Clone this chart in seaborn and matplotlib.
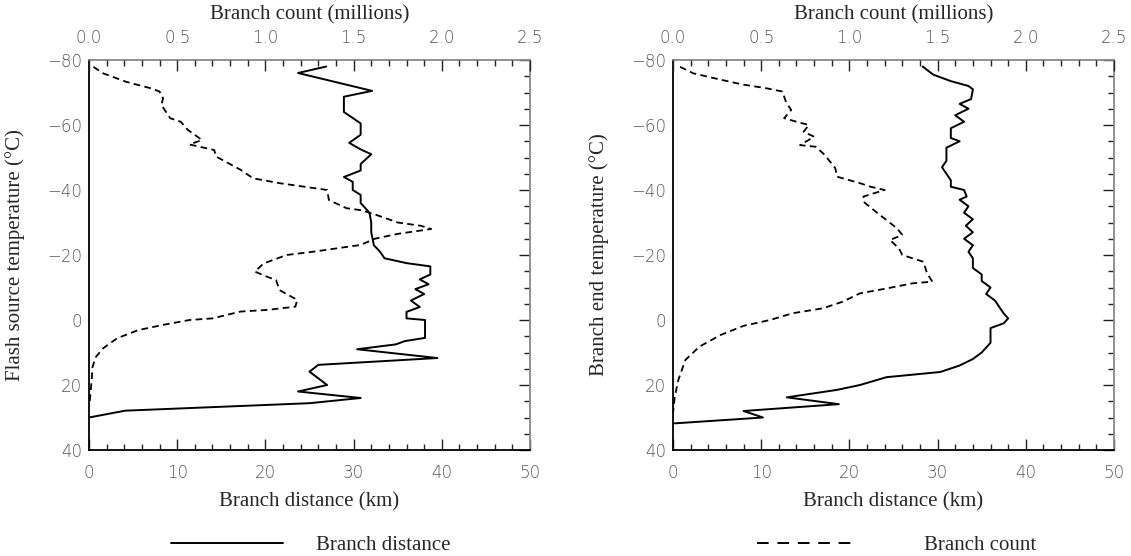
import numpy as np
import pandas as pd
import matplotlib
matplotlib.use("Agg")
import matplotlib.pyplot as plt
from matplotlib.lines import Line2D
from matplotlib.ticker import MultipleLocator
import seaborn as sns

# ---------------- data ----------------
# Left panel: flash source temperature
left_dist_km = [26.9, 23.7, 32.1, 28.9, 28.9, 30.8, 30.8, 29.5, 30.8, 32.0, 30.8, 30.8, 28.9, 29.9,
                29.9, 30.8, 30.8, 31.8, 32.0, 32.0, 32.3, 33.0, 33.5, 36.0, 38.7, 38.7, 37.5, 38.5,
                37.0, 38.0, 36.5, 37.5, 36.0, 36.0, 38.1, 38.1, 35.8, 34.8, 30.4, 39.5, 26.0, 25.0,
                27.0, 23.7, 30.8, 25.0, 4.1, 0.0]
left_dist_temp = [-78, -76, -70.5, -68.7, -64, -60.5, -57, -54.5, -52.5, -51, -48, -46, -44, -42.5,
                  -40, -38.5, -36, -33, -30, -27, -23, -21, -19, -17.5, -16.5, -14, -12.5, -11,
                  -9.5, -8, -6, -4, -2.5, -0.5, 0, 5.5, 6.5, 7.5, 9, 11.7, 13.8, 15.9,
                  20, 22, 24, 25.6, 27.9, 30]

left_count_m = [0.025, 0.08, 0.21, 0.35, 0.40, 0.42, 0.41, 0.46, 0.52, 0.56, 0.64, 0.57, 0.71, 0.72,
                0.86, 0.93, 1.08, 1.35, 1.36, 1.46, 1.54, 1.62, 1.75, 1.88, 1.94, 1.75, 1.62, 1.54,
                1.27, 1.12, 0.99, 0.94, 1.01, 1.06, 1.08, 1.18, 1.17, 1.01, 0.86, 0.70, 0.57, 0.42,
                0.28, 0.16, 0.08, 0.04, 0.02, 0.015, 0.005, 0.0]
left_count_temp = [-77.9, -75.9, -73.3, -71.3, -70.3, -68.2, -66.2, -62.1, -61, -58.5, -55.4, -54, -52.3, -50.3,
                   -46.2, -43.6, -42.1, -40, -36.9, -34.4, -33.8, -32.5, -30, -29, -28, -26.5, -25, -23.1,
                   -21, -20, -17.4, -14.9, -13.3, -12.3, -9.2, -6.2, -4.1, -3.1, -2.6, -0.5, 0, 1.5,
                   3.1, 5.6, 8.7, 11.3, 14.4, 18.5, 24.6, 26]

# Right panel: branch end temperature
right_dist_km = [28.3, 29.5, 31.5, 33.5, 34.0, 33.8, 32.5, 33.5, 32.0, 33.0, 31.5, 31.5, 32.5, 31.0,
                 31.0, 30.5, 31.0, 31.5, 31.5, 33.0, 33.3, 32.5, 33.5, 33.0, 34.0, 33.2, 34.0, 33.0,
                 34.0, 33.5, 34.0, 34.0, 35.0, 35.0, 36.0, 35.5, 36.5, 37.0, 37.5, 38.0, 37.5, 36.0,
                 36.0, 35.5, 35.0, 34.0, 32.5, 30.3, 24.2, 21.2, 18.6, 12.9, 18.8, 8.0, 10.2, 0.2]
right_dist_temp = [-78, -75.5, -73.5, -72, -71, -68, -66.5, -65, -63, -61, -59, -56, -55, -53,
                   -49, -47, -45, -43, -41, -40, -38, -37, -35, -33, -31, -29, -27, -25,
                   -23, -21, -19, -16, -14, -12, -10, -8, -6, -4, -2, -0.5, 1, 2.5,
                   7, 8.5, 10, 12, 14, 16, 17.6, 20, 21.5, 23.8, 25.9, 28, 30, 31.8]

right_count_m = [0.04, 0.115, 0.25, 0.39, 0.53, 0.62, 0.64, 0.67, 0.63, 0.70, 0.77, 0.74, 0.80, 0.72,
                 0.81, 0.86, 0.92, 0.93, 1.06, 1.12, 1.20, 1.08, 1.08, 1.15, 1.27, 1.30, 1.23, 1.28,
                 1.30, 1.42, 1.44, 1.47, 1.36, 1.21, 1.06, 0.96, 0.85, 0.68, 0.55, 0.40, 0.27, 0.15,
                 0.07, 0.03, 0.01, 0.0]
right_count_temp = [-77.9, -75.9, -74.2, -72.5, -71.3, -70.3, -67.2, -64.6, -62.1, -61, -60, -57.9, -56.4, -53.8,
                    -53.3, -50.8, -46.7, -44.1, -42.1, -41, -40, -38, -36.4, -33.3, -28.2, -26.2, -24.6, -22.1,
                    -20, -17.9, -14.4, -11.8, -11.3, -9.7, -8.2, -5.6, -3.6, -2.1, 0, 1.8, 4.6, 8.2,
                    12.3, 18.5, 23.6, 28.7]

panels = [
    dict(ylabel="Flash source temperature (°C)", dist=(left_dist_km, left_dist_temp),
         count=(left_count_m, left_count_temp)),
    dict(ylabel="Branch end temperature (°C)", dist=(right_dist_km, right_dist_temp),
         count=(right_count_m, right_count_temp)),
]

x_ticks_km = [0, 10, 20, 30, 40, 50]
x_ticks_m = [0.0, 0.5, 1.0, 1.5, 2.0, 2.5]
y_ticks = [-80, -60, -40, -20, 0, 20, 40]

# ---------------- style ----------------
sns.set_theme(style="white")
plt.rcParams["font.family"] = ["DejaVu Sans"]
plt.rcParams["axes.unicode_minus"] = True

W, H = 1131, 556
fig = plt.figure(figsize=(W / 100, H / 100), dpi=100)

serif = ["Liberation Serif", "DejaVu Serif"]
tick_font = dict(family=["DejaVu Sans"], size=12, weight="light")
tick_color = "#555555"

ax_left_px = [89, 673]
ax_w, ax_top, ax_bot = 441, 60, 450

for i, p in enumerate(panels):
    ax = fig.add_axes([ax_left_px[i] / W, (H - ax_bot) / H, ax_w / W, (ax_bot - ax_top) / H])
    ax.set_facecolor("white")
    df_d = pd.DataFrame({"x": p["dist"][0], "y": p["dist"][1]})
    sns.lineplot(data=df_d, x="x", y="y", sort=False, estimator=None, ax=ax,
                 color="black", linewidth=1.4)
    ax.set_xlim(0, 50)
    ax.set_ylim(40, -80)
    ax.set_xticks(x_ticks_km)
    ax.set_yticks(y_ticks)
    ax.xaxis.set_minor_locator(MultipleLocator(2))
    ax.yaxis.set_minor_locator(MultipleLocator(5))
    ax.set_xticklabels([str(v) for v in x_ticks_km], **tick_font, color=tick_color)
    ax.set_yticklabels([str(v).replace("-", "\u2212") for v in y_ticks], **tick_font, color=tick_color)
    ax.tick_params(axis="both", which="both", direction="in", top=False, right=True,
                   color="#222222", width=1)
    ax.tick_params(axis="both", which="major", length=8)
    ax.tick_params(axis="both", which="minor", length=4)
    ax.tick_params(axis="x", which="major", pad=10)
    ax.tick_params(axis="y", which="major", pad=5)
    ax.set_xlabel("Branch distance (km)", family=serif, size=15)
    ax.set_ylabel(p["ylabel"], family=serif, size=15)
    ax.xaxis.set_label_coords(0.5, -0.108)
    ax.yaxis.set_label_coords(-0.145, 0.5)
    for s in ["left", "bottom"]:
        ax.spines[s].set_color("black")
        ax.spines[s].set_linewidth(1.3)
    for s in ["top", "right"]:
        ax.spines[s].set_color("#888888")
        ax.spines[s].set_linewidth(1.3)
    ax.grid(False)

    ax2 = ax.twiny()
    df_c = pd.DataFrame({"x": p["count"][0], "y": p["count"][1]})
    sns.lineplot(data=df_c, x="x", y="y", sort=False, estimator=None, ax=ax2,
                 color="black", linewidth=1.3, dashes=False)
    ax2.lines[0].set_dashes([3.7, 2.4])
    ax2.set_xlim(0, 2.5)
    ax2.set_ylim(40, -80)
    ax2.set_xticks(x_ticks_m)
    ax2.xaxis.set_minor_locator(MultipleLocator(0.1))
    ax2.set_xticklabels([f"{v:.1f}" for v in x_ticks_m], **tick_font, color=tick_color)
    ax2.tick_params(axis="x", which="both", direction="in", color="#222222", width=1)
    ax2.tick_params(axis="x", which="major", length=8, pad=9)
    ax2.tick_params(axis="x", which="minor", length=4)
    ax2.set_xlabel("Branch count (millions)", family=serif, size=15)
    ax2.xaxis.set_label_coords(0.5, 1.103)
    ax2.set_ylabel("")
    for s in ax2.spines.values():
        s.set_visible(False)
    ax2.grid(False)

# legends below panels
h_solid = Line2D([], [], color="black", linewidth=1.4, linestyle="-")
h_dash = Line2D([], [], color="black", linewidth=1.4, linestyle=(0, (6, 4.5)))
fig.legend([h_solid], ["Branch distance"], loc="center left",
           bbox_to_anchor=(152 / W, 1 - 545 / H), frameon=False,
           handlelength=5.38, handletextpad=1.6, prop=dict(family=serif, size=15))
fig.legend([h_dash], ["Branch count"], loc="center left",
           bbox_to_anchor=(738 / W, 1 - 545 / H), frameon=False,
           handlelength=4.85, handletextpad=3.2, prop=dict(family=serif, size=15))

fig.savefig("out.png", dpi=100, facecolor="white")
